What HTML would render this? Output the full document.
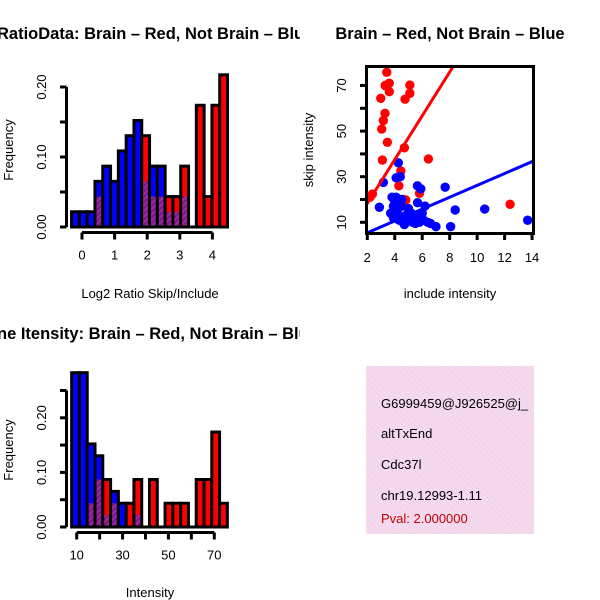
<!DOCTYPE html>
<html><head><meta charset="utf-8"><style>
html,body{margin:0;padding:0;background:#fff;}
svg{display:block;font-family:"Liberation Sans",sans-serif;}
</style></head><body>
<svg id="chart" width="600" height="600" viewBox="0 0 600 600">
<defs>
<pattern id="purp" width="4" height="4" patternUnits="userSpaceOnUse" patternTransform="rotate(45)">
<rect width="4" height="4" fill="#9a2aa0"/><rect width="2" height="4" fill="#7a1880"/></pattern>
<pattern id="pink" width="4" height="4" patternUnits="userSpaceOnUse" patternTransform="rotate(-45)">
<rect width="4" height="4" fill="#f8d6f4"/><rect width="1" height="4" fill="#e6dcd8"/></pattern>
<clipPath id="clipTL"><rect x="0" y="0" width="300" height="300"/></clipPath>
<clipPath id="clipBL"><rect x="0" y="300" width="300" height="300"/></clipPath>
<clipPath id="clipSc"><rect x="366" y="66" width="168" height="168"/></clipPath>
<clipPath id="clipBox"><rect x="366" y="366" width="168" height="168"/></clipPath>
</defs>
<g id="tl"></g>
<g id="tr"></g>
<g id="bl"></g>
<g>
<rect x="366" y="366" width="168" height="168" fill="url(#pink)"/>
<g clip-path="url(#clipBox)" font-size="13">
<text x="381" y="408">G6999459@J926525@j_</text>
<text x="381" y="438">altTxEnd</text>
<text x="381" y="469">Cdc37l</text>
<text x="381" y="500">chr19.12993-1.11</text>
<text x="381" y="523" fill="#c00000">Pval: 2.000000</text>
</g></g>
</svg>
<script>
// ---- data: top-left histogram (counts in units of 1/46) ----
const ratioBlue = [1,1,1,3,4,3,5,6,7,3,4,4,1,1,2,0,0,0,0,0];
const ratioRed  = [0,0,0,2,0,0,0,0,0,6,2,2,2,2,4,0,8,2,8,10];
const ratioXTicks = [0,1,2,3,4];
const ratioYTicks = [0,0.05,0.10,0.15,0.20];
const ratioYLabels = ["0.00","","0.10","","0.20"];
// ---- bottom-left histogram ----
const intBlue = [13,13,7,6,1,3,2,0,1,0,0,0,0,0,0,0,0,0,0,0];
const intRed  = [0,0,2,4,4,2,0,2,4,0,4,0,2,2,2,0,4,4,8,2];
const intXTicks = [10,20,30,40,50,60,70];
const intXLabels = ["10","","30","","50","","70"];
const intYTicks = [0,0.05,0.10,0.15,0.20,0.25];
const intYLabels = ["0.00","","0.10","","0.20",""];
// ---- scatter ----
const redX = [2.2,2.37,3.42,3.46,3.3,3.6,3.6,2.98,3.29,3.17,3.05,3.46,3.1,4.7,4.44,4.3,6.45,4.75,5.1,5.1,4.8,5.8,12.4,4.6];
const redY = [21,22.4,75.8,70,70,71,67.3,64.4,57.8,54.6,50.9,45.1,37.3,42.7,32.5,26,37.8,64,70.2,66.6,19.8,22.7,17.9,20];
const blueX = [3.17,4.26,4.1,4.4,5.65,5.9,7.67,2.88,8.4,10.55,13.68,7.0,8.07,6.2,5.66,3.8,4.1,4.0,4.5,3.9,4.2,3.7,4.0,4.4,4.8,5.0,4.6,5.3,5.6,5.8,6.1,6.4,4.3,3.9,5.2,5.5,4.7,6.6,6.0,5.0,4.5];
const blueY = [27.5,36.1,29.5,30,26,24.7,25.4,16.6,15.4,15.8,10.9,8.1,8.1,17.1,18.6,21,21,19,20,17,15,14,13,12,13,11,10,10,12,10,11,10,11,12,14,9.5,9,9.5,14,16,17];
const redFit = [-0.9,9.6];
const blueFit = [0.2,2.6];
const scXTicks = [2,4,6,8,10,12,14];
const scYTicks = [10,20,30,40,50,60,70];
const scYLabels = ["10","","30","","50","","70"];

const NS="http://www.w3.org/2000/svg";
function mk(parent,tag,attrs,text){const e=document.createElementNS(NS,tag);for(const k in attrs)e.setAttribute(k,attrs[k]);if(text!==undefined)e.textContent=text;parent.appendChild(e);return e;}

function hist(g,blue,red,binStart,binW,xs,ys,base,yTop,xTicks,xLabels,yTicks,yLabels,title,xlab,clip,titleY,xTickY,xlabY,yLabY){
  const unit=1/46;
  for(let i=0;i<blue.length;i++){
    const b=blue[i],r=red[i];const mx=Math.max(b,r),mn=Math.min(b,r);
    if(mx===0)continue;
    const x0=xs(binStart+i*binW),x1=xs(binStart+(i+1)*binW);
    const bar=mk(g,'rect',{x:x0,y:ys(mx*unit),width:x1-x0,height:base-ys(mx*unit),fill:b>=r?'#0000ff':'#ff0000',stroke:'#000','stroke-width':3});
    
    
    if(mn>0){const p=mk(g,'rect',{x:x0+1.5,y:ys(mn*unit),width:x1-x0-3,height:base-ys(mn*unit)-1.5,fill:'url(#purp)'});
      
      }
  }
  const bl=mk(g,'line',{x1:xs(binStart)-1,x2:xs(binStart+blue.length*binW)+1,y1:base,y2:base,stroke:'#000','stroke-width':3});
  
  
  const xa=mk(g,'g',{});
  
  
  mk(xa,'line',{x1:xs(xTicks[0]),x2:xs(xTicks[xTicks.length-1]),y1:xTickY,y2:xTickY,stroke:'#000','stroke-width':3});
  xTicks.forEach((t,i)=>{mk(xa,'line',{x1:xs(t),x2:xs(t),y1:xTickY,y2:xTickY+7,stroke:'#000','stroke-width':3});
    if(xLabels[i])mk(xa,'text',{x:xs(t),y:xTickY+27,'text-anchor':'middle','font-size':13},xLabels[i]);});
  const ya=mk(g,'g',{});
  
  
  mk(ya,'line',{x1:66.5,x2:66.5,y1:ys(yTicks[yTicks.length-1]),y2:ys(yTicks[0]),stroke:'#000','stroke-width':3});
  yTicks.forEach((t,i)=>{mk(ya,'line',{x1:60,x2:66.5,y1:ys(t),y2:ys(t),stroke:'#000','stroke-width':3});
    if(yLabels[i])mk(ya,'text',{x:0,y:0,transform:`translate(46,${ys(t)}) rotate(-90)`,'text-anchor':'middle','font-size':13},yLabels[i]);});
  const tt=mk(g,'text',{x:-3,y:titleY,'font-size':16.5,'font-weight':'bold','clip-path':clip},title);
  
  
  const xl=mk(g,'text',{x:150,y:xlabY,'text-anchor':'middle','font-size':13},xlab);
  
  
  const yl=mk(g,'text',{x:0,y:0,transform:`translate(13,${yLabY}) rotate(-90)`,'text-anchor':'middle','font-size':13},'Frequency');
  
  
}

hist(document.getElementById('tl'),ratioBlue,ratioRed,-0.32,0.2392,
  v=>82+v*32.6, v=>227-v*700, 227, 87, ratioXTicks, ["0","1","2","3","4"], ratioYTicks, ratioYLabels,
  'RatioData: Brain \u2013 Red, Not Brain \u2013 Blue','Log2 Ratio Skip/Include','url(#clipTL)',39,232.5,298,150);
hist(document.getElementById('bl'),intBlue,intRed,7.8,3.395,
  v=>76.7+(v-10)*2.293, v=>527-v*546, 527, 390, intXTicks, intXLabels, intYTicks, intYLabels,
  'ne Itensity: Brain \u2013 Red, Not Brain \u2013 Blue','Intensity','url(#clipBL)',339,532.5,597,450);

(function(){
  const g=document.getElementById('tr');
  const xs=v=>367.3+(v-2)*13.73, ys=v=>222.3-(v-10)*2.28;
  const pts=mk(g,'g',{'clip-path':'url(#clipSc)'});
  
  
  redX.forEach((x,i)=>{const c=mk(pts,'circle',{cx:xs(x),cy:ys(redY[i]),r:4.7,fill:'#ff0000'});
    
    });
  blueX.forEach((x,i)=>{const c=mk(pts,'circle',{cx:xs(x),cy:ys(blueY[i]),r:4.7,fill:'#0000ff'});
    
    });
  const rl=mk(pts,'line',{x1:xs(0),y1:ys(redFit[0]),x2:xs(16),y2:ys(redFit[0]+redFit[1]*16),stroke:'#ff0000','stroke-width':3});
  
  
  const bll=mk(pts,'line',{x1:xs(0),y1:ys(blueFit[0]),x2:xs(16),y2:ys(blueFit[0]+blueFit[1]*16),stroke:'#0000ff','stroke-width':3});
  
  
  const box=mk(g,'rect',{x:366.5,y:66.5,width:167,height:167,fill:'none',stroke:'#000','stroke-width':3});
  
  
  const xa=mk(g,'g',{});
  
  
  scXTicks.forEach(t=>{mk(xa,'line',{x1:xs(t),x2:xs(t),y1:233,y2:240,stroke:'#000','stroke-width':3});
    mk(xa,'text',{x:xs(t),y:262,'text-anchor':'middle','font-size':13},String(t));});
  const ya=mk(g,'g',{});
  
  
  scYTicks.forEach((t,i)=>{mk(ya,'line',{x1:360,x2:366.5,y1:ys(t),y2:ys(t),stroke:'#000','stroke-width':3});
    if(scYLabels[i])mk(ya,'text',{x:0,y:0,transform:`translate(346,${ys(t)}) rotate(-90)`,'text-anchor':'middle','font-size':13},scYLabels[i]);});
  const tt=mk(g,'text',{x:450,y:39,'text-anchor':'middle','font-size':16.5,'font-weight':'bold'},'Brain \u2013 Red, Not Brain \u2013 Blue');
  
  
  const xl=mk(g,'text',{x:450,y:298,'text-anchor':'middle','font-size':13},'include intensity');
  
  
  const yl=mk(g,'text',{x:0,y:0,transform:'translate(313,150) rotate(-90)','text-anchor':'middle','font-size':13},'skip intensity');
  
  
})();
</script>
</body></html>
